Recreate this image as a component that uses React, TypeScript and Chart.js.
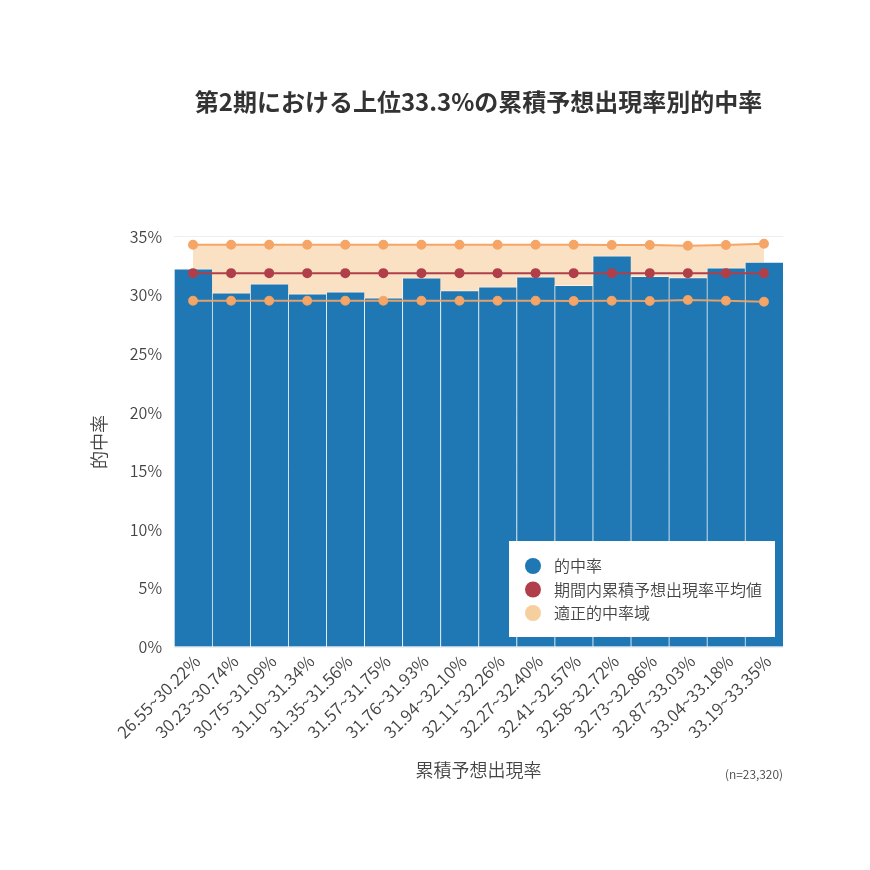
import React, { useRef, useEffect } from 'react';
import Chart from 'chart.js/auto';

const FONT = '"Noto Sans CJK JP", "Noto Sans", sans-serif';
const W = '350';

const categories = [
  '26.55~30.22%', '30.23~30.74%', '30.75~31.09%', '31.10~31.34%',
  '31.35~31.56%', '31.57~31.75%', '31.76~31.93%', '31.94~32.10%',
  '32.11~32.26%', '32.27~32.40%', '32.41~32.57%', '32.58~32.72%',
  '32.73~32.86%', '32.87~33.03%', '33.04~33.18%', '33.19~33.35%',
];

// 的中率 (%)
const hitRate = [32.27, 30.22, 30.99, 30.13, 30.30, 29.79, 31.50, 30.42, 30.73, 31.59, 30.85, 33.38, 31.62, 31.53, 32.35, 32.84];
// 期間内累積予想出現率平均値 (%)
const avgRate = [31.9, 31.9, 31.9, 31.9, 31.9, 31.9, 31.9, 31.9, 31.9, 31.9, 31.9, 31.9, 31.9, 31.9, 31.9, 31.9];
// 適正的中率域 上限・下限 (%)
const upperRate = [34.32, 34.32, 34.32, 34.32, 34.32, 34.32, 34.32, 34.32, 34.32, 34.32, 34.32, 34.3, 34.3, 34.24, 34.3, 34.4];
const lowerRate = [29.54, 29.54, 29.54, 29.54, 29.54, 29.54, 29.54, 29.54, 29.54, 29.54, 29.52, 29.54, 29.52, 29.6, 29.54, 29.46];

const yTicks = [0, 5, 10, 15, 20, 25, 30, 35];

const legendLabels = ['的中率', '期間内累積予想出現率平均値', '適正的中率域'];
const legendColors = ['#1f77b4', '#b13f4a', '#f7cf9f'];
const noteText = '(n=23,320)';

const BLUE = '#1f77b4';
const RED = '#b13f4a';
const ORANGE = '#f5a566';
const BAND = '#fae1c3';

const legendPlugin = {
  id: 'innerLegend',
  afterDraw(chart: any) {
    const { ctx, chartArea } = chart;
    const w = 266;
    const h = 96;
    const x = chartArea.right - 8 - w;
    const y = chartArea.bottom - 10 - h;
    ctx.save();
    ctx.fillStyle = '#ffffff';
    ctx.fillRect(x, y, w, h);
    ctx.font = `${W} 16px ${FONT}`;
    ctx.textBaseline = 'middle';
    ctx.textAlign = 'left';
    legendLabels.forEach((label, i) => {
      const cy = y + 25 + i * 23.5;
      ctx.beginPath();
      ctx.fillStyle = legendColors[i];
      ctx.arc(x + 24, cy, 8, 0, Math.PI * 2);
      ctx.fill();
      ctx.fillStyle = '#444';
      ctx.fillText(label, x + 45, cy);
    });
    // サンプル数
    ctx.font = `${W} 12px ${FONT}`;
    ctx.textAlign = 'right';
    ctx.fillStyle = '#444';
    ctx.fillText(noteText, chartArea.right, 774);
    ctx.restore();
  },
};

const App: React.FC = () => {
  const canvasRef = useRef<HTMLCanvasElement>(null);
  const chartRef = useRef<Chart | null>(null);

  useEffect(() => {
    document.body.style.margin = '0';
    if (!canvasRef.current) return;
    if (chartRef.current) chartRef.current.destroy();

    chartRef.current = new Chart(canvasRef.current, {
      type: 'bar',
      data: {
        labels: categories,
        datasets: [
          {
            type: 'line',
            label: 'band-upper',
            data: upperRate,
            fill: '+1',
            backgroundColor: BAND,
            borderWidth: 0,
            pointRadius: 0,
            order: 10,
          },
          {
            type: 'line',
            label: 'band-lower',
            data: lowerRate,
            fill: false,
            borderWidth: 0,
            pointRadius: 0,
            order: 10,
          },
          {
            type: 'bar',
            label: '的中率',
            data: hitRate,
            backgroundColor: BLUE,
            borderColor: 'rgba(255,255,255,0.5)',
            borderWidth: { left: 1, top: 1, right: 0, bottom: 0 },
            categoryPercentage: 1,
            barPercentage: 1,
            order: 5,
          },
          {
            type: 'line',
            label: '適正的中率域(上限)',
            data: upperRate,
            borderColor: ORANGE,
            backgroundColor: ORANGE,
            borderWidth: 2,
            pointRadius: 4,
            fill: false,
            order: 1,
          },
          {
            type: 'line',
            label: '適正的中率域(下限)',
            data: lowerRate,
            borderColor: 'rgba(245,165,102,0.9)',
            backgroundColor: ORANGE,
            borderWidth: 2,
            pointRadius: 4,
            fill: false,
            order: 1,
          },
          {
            type: 'line',
            label: '期間内累積予想出現率平均値',
            data: avgRate,
            borderColor: RED,
            backgroundColor: RED,
            borderWidth: 2,
            pointRadius: 4,
            fill: false,
            order: 1,
          },
        ],
      },
      options: {
        animation: false,
        responsive: true,
        maintainAspectRatio: false,
        layout: { padding: { left: 88, right: 87, top: 0, bottom: 89 } },
        plugins: {
          legend: { display: false },
          tooltip: { enabled: false },
          title: {
            display: true,
            fullSize: false,
            text: '第2期における上位33.3%の累積予想出現率別的中率',
            color: '#333',
            font: { family: FONT, size: 24, weight: 'bold' },
            padding: { top: 87, bottom: 121 },
          },
        },
        scales: {
          x: {
            grid: { display: false, drawTicks: false },
            border: { display: false },
            ticks: {
              color: '#444',
              font: { family: FONT, size: 17, weight: W },
              maxRotation: 45,
              minRotation: 45,
              autoSkip: false,
              padding: 4,
              labelOffset: 4,
            },
            title: {
              display: true,
              text: '累積予想出現率',
              color: '#444',
              font: { family: FONT, size: 18, weight: W },
              padding: 0,
            },
            afterFit: (s: any) => { s.height = 134; },
          },
          y: {
            min: 0,
            max: 35,
            afterBuildTicks: (s: any) => { s.ticks = yTicks.map((v) => ({ value: v })); },
            grid: { color: '#eeeeee', drawTicks: false },
            border: { display: false },
            ticks: {
              color: '#444',
              font: { family: FONT, size: 16, weight: W },
              padding: 12,
              callback: (v: any) => `${v}%`,
            },
            title: {
              display: true,
              text: '的中率',
              color: '#444',
              font: { family: FONT, size: 18, weight: W },
              padding: 0,
            },
            afterFit: (s: any) => { s.width = 86; },
          },
        },
      },
      plugins: [legendPlugin],
    });

    return () => {
      if (chartRef.current) {
        chartRef.current.destroy();
        chartRef.current = null;
      }
    };
  }, []);

  return (
    <div style={{ width: 870, height: 870, position: 'relative', background: '#fff' }}>
      <canvas ref={canvasRef}></canvas>
    </div>
  );
};

export default App;
